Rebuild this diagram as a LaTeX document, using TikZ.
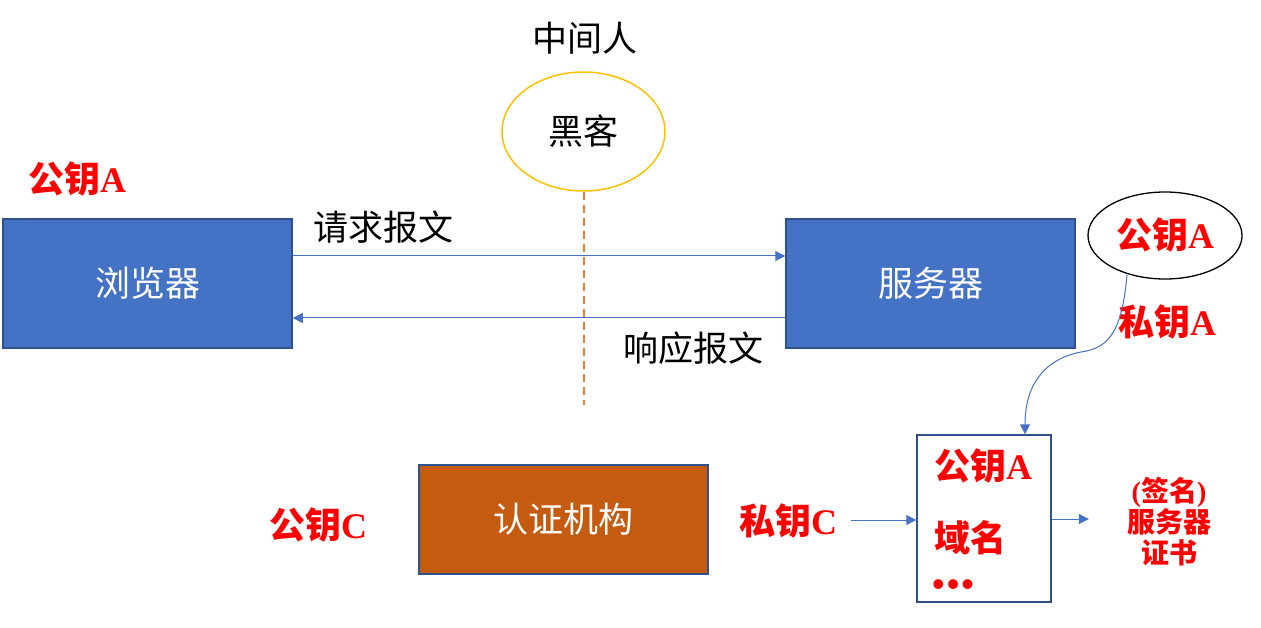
\documentclass[tikz,border=0pt]{standalone}
\usepackage{fontspec}
\setmainfont{Liberation Serif}
\newfontfamily\cjk{Noto Sans CJK SC}
\usetikzlibrary{arrows.meta,shapes.geometric}
\definecolor{boxblue}{HTML}{4472C4}
\definecolor{boxedge}{HTML}{2F528F}
\definecolor{authfill}{HTML}{C55A11}
\definecolor{goldedge}{HTML}{FFC000}
\definecolor{dashorange}{RGB}{237,125,49}
\definecolor{keyred}{HTML}{FF0000}
\tikzset{
  bluebox/.style={draw=boxedge, line width=1.5pt, fill=boxblue, text=white, font=\cjk\fontsize{35}{40}\selectfont, inner sep=0pt},
  authbox/.style={draw=boxedge, line width=1.5pt, fill=authfill, text=white, font=\cjk\fontsize{35}{40}\selectfont, inner sep=0pt},
  plaintext/.style={text=black, font=\cjk\fontsize{35}{40}\selectfont, inner sep=0pt},
  redkey/.style={text=keyred, font=\fontsize{36}{40}\selectfont\bfseries, inner sep=0pt},
  redsmall/.style={text=keyred, font=\fontsize{28}{31}\selectfont\bfseries, inner sep=0pt, align=center},
  conn/.style={draw=boxblue, line width=1pt, -{Triangle[length=10pt,width=10pt]}},
  dashline/.style={color=dashorange, line width=2pt, dash pattern=on 8pt off 5pt},
}
\newcommand{\rk}[1]{{\cjk\bfseries #1}}
\begin{document}
\begin{tikzpicture}[x=1pt,y=-1pt]
\useasboundingbox (0,0) rectangle (1261,628);

% main boxes
\node[bluebox, minimum width=289pt, minimum height=129pt] (browser) at (147.5,283.5) {浏览器};
\node[bluebox, minimum width=289pt, minimum height=129pt] (server) at (930.5,283.5) {服务器};
\node[authbox, minimum width=289pt, minimum height=109pt] (auth) at (563.5,519.5) {认证机构};

% hacker
\node[plaintext] (mitm) at (585,38) {中间人};
\node[draw=goldedge, line width=1.5pt, ellipse, minimum width=163pt, minimum height=119pt, plaintext] (hacker) at (583.5,131.5) {黑客};
\coordinate (dashend) at (583.5,405);
\draw[dashline] (hacker.south) -- (dashend);

% request / response
\draw[conn] ([yshift=27.5pt]browser.east) -- ([yshift=27.5pt]server.west);
\draw[conn] ([yshift=-34.5pt]server.west) -- ([yshift=-34.5pt]browser.east);
\node[plaintext] (req) at (383,227) {请求报文};
\node[plaintext] (resp) at (693,348) {响应报文};

% keys
\node[redkey] (pubAleft) at (77,179) {\rk{公钥}A};
\node[draw=black, line width=1.3pt, ellipse, minimum width=154pt, minimum height=87pt, redkey] (pubA) at (1165,235.5) {\rk{公钥}A};
\node[redkey] (privA) at (1167,322) {\rk{私钥}A};
\node[redkey] (pubC) at (318,525) {\rk{公钥}C};
\node[redkey] (privC) at (788,521) {\rk{私钥}C};

% certificate
\node[draw=boxedge, line width=1.5pt, fill=white, minimum width=134pt, minimum height=167pt, inner sep=0pt] (cert) at (984,518.5) {};
\node[redkey, anchor=west] (certpub) at (934,466) {\rk{公钥}A};
\node[redkey, anchor=west] (certdom) at (934,538) {\rk{域名}};
\node[redkey, anchor=west] (certdots) at (932,588) {\textbullet\kern2pt\textbullet\kern2pt\textbullet};
\node[redsmall] (sig) at (1169,522) {(\rk{签名})\\\rk{服务器}\\\rk{证书}};

% connectors
\coordinate (curvestart) at (1127,275);
\draw[conn] (curvestart) .. controls (1122,330) and (1110,348) .. (1081,352)
  .. controls (1040,360) and (1025,390) .. ([xshift=41pt]cert.north);
\draw[conn, shorten <=14pt] (privC.east |- 0,520) -- (cert.west |- 0,520);
\draw[conn, shorten >=38pt] (cert.east |- 0,519) -- (sig.west |- 0,519);
\end{tikzpicture}
\end{document}
